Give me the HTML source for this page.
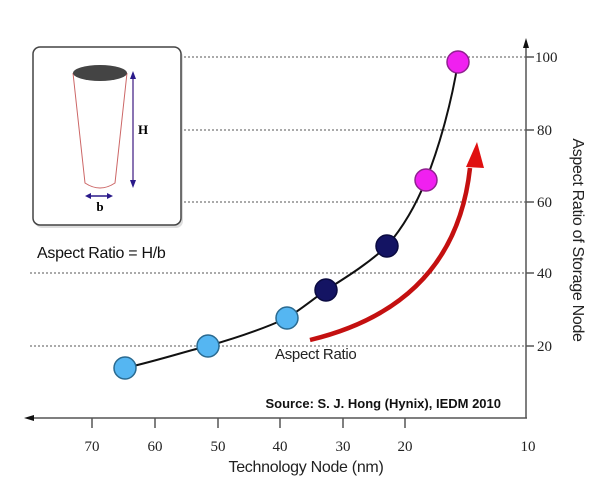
<!DOCTYPE html>
<html><head><meta charset="utf-8"><style>
body{margin:0;background:#fff;}
svg{display:block;}
</style></head><body>
<svg width="600" height="487" viewBox="0 0 600 487" xmlns="http://www.w3.org/2000/svg">
<rect width="600" height="487" fill="#fff"/>
<g stroke="#777" stroke-width="1.2" stroke-dasharray="2,2">
<line x1="184" y1="57" x2="526" y2="57"/>
<line x1="184" y1="130" x2="526" y2="130"/>
<line x1="184" y1="202" x2="526" y2="202"/>
<line x1="30" y1="273" x2="526" y2="273"/>
<line x1="30" y1="346" x2="526" y2="346"/>
</g>
<rect x="35" y="50" width="148" height="178" rx="7" fill="#ddd"/>
<rect x="33" y="47" width="148" height="178" rx="7" fill="#fff" stroke="#444" stroke-width="1.5"/>
<path d="M73 73 L85 183 Q100 193 115 183 L127 73" fill="#fff" stroke="#c66" stroke-width="1"/>
<ellipse cx="100" cy="73" rx="27" ry="8" fill="#444"/>
<line x1="133" y1="76" x2="133" y2="184" stroke="#4a2a8a" stroke-width="1.3"/>
<path d="M133 71 L130 79 L136 79Z M133 188 L130 180 L136 180Z" fill="#2a1a8a"/>
<text x="138" y="134" font-family="Liberation Serif,serif" font-weight="bold" font-size="13">H</text>
<line x1="88" y1="196" x2="110" y2="196" stroke="#2a1a8a" stroke-width="1.5"/>
<path d="M85 196 L91 193 L91 199Z M113 196 L107 193 L107 199Z" fill="#2a1a8a"/>
<text x="100" y="211" text-anchor="middle" font-family="Liberation Serif,serif" font-weight="bold" font-size="13">b</text>
<text x="37" y="258" font-family="Liberation Sans,sans-serif" font-size="16" fill="#111" letter-spacing="-0.3">Aspect Ratio = H/b</text>
<line x1="30" y1="418" x2="527" y2="418" stroke="#555" stroke-width="1.5"/>
<path d="M24 418 L34 415 L34 421Z" fill="#111"/>
<line x1="526" y1="418" x2="526" y2="45" stroke="#555" stroke-width="1.5"/>
<path d="M526 38 L523 48 L529 48Z" fill="#111"/>
<g stroke="#555" stroke-width="1.5">
<line x1="92" y1="418" x2="92" y2="428"/><line x1="155" y1="418" x2="155" y2="428"/>
<line x1="218" y1="418" x2="218" y2="428"/><line x1="280" y1="418" x2="280" y2="428"/>
<line x1="343" y1="418" x2="343" y2="428"/><line x1="405" y1="418" x2="405" y2="428"/>
<line x1="526" y1="57" x2="534" y2="57"/><line x1="526" y1="130" x2="534" y2="130"/>
<line x1="526" y1="202" x2="534" y2="202"/><line x1="526" y1="273" x2="534" y2="273"/>
<line x1="526" y1="346" x2="534" y2="346"/>
</g>
<g font-family="Liberation Serif,serif" font-size="15" fill="#222" text-anchor="middle">
<text x="92" y="451">70</text><text x="155" y="451">60</text><text x="218" y="451">50</text>
<text x="280" y="451">40</text><text x="343" y="451">30</text><text x="405" y="451">20</text><text x="528" y="451">10</text>
</g>
<g font-family="Liberation Serif,serif" font-size="15" fill="#222">
<text x="535" y="62">100</text><text x="537" y="135">80</text><text x="537" y="207">60</text>
<text x="537" y="278">40</text><text x="537" y="351">20</text>
</g>
<text x="306" y="472" text-anchor="middle" font-family="Liberation Sans,sans-serif" font-size="16" fill="#222" letter-spacing="-0.3">Technology Node (nm)</text>
<text transform="translate(573,240) rotate(90)" text-anchor="middle" font-family="Liberation Sans,sans-serif" font-size="16" fill="#222" letter-spacing="-0.3">Aspect Ratio of Storage Node</text>
<text x="501" y="408" text-anchor="end" font-family="Liberation Sans,sans-serif" font-weight="bold" font-size="13" fill="#111">Source: S. J. Hong (Hynix), IEDM 2010</text>
<text x="275" y="359" font-family="Liberation Sans,sans-serif" font-size="15" fill="#222" letter-spacing="-0.3">Aspect Ratio</text>
<path d="M310 340 Q455 305 470 168" fill="none" stroke="#c41010" stroke-width="4.5"/>
<path d="M477 142 L466 167 L484 168Z" fill="#e01010"/>
<path d="M125 368 C160 360 190 350 208 346 C240 337 265 328 287 318 C300 310 315 298 326 290 C350 275 370 262 387 246 C405 225 418 200 426 180 C440 145 452 100 458 62" fill="none" stroke="#111" stroke-width="2"/>
<g stroke-width="1.5">
<circle cx="125" cy="368" r="11" fill="#55b6f2" stroke="#2a6a90"/>
<circle cx="208" cy="346" r="11" fill="#55b6f2" stroke="#2a6a90"/>
<circle cx="287" cy="318" r="11" fill="#55b6f2" stroke="#2a6a90"/>
<circle cx="326" cy="290" r="11" fill="#141463" stroke="#0a0a40"/>
<circle cx="387" cy="246" r="11" fill="#141463" stroke="#0a0a40"/>
<circle cx="426" cy="180" r="11" fill="#f020f0" stroke="#902090"/>
<circle cx="458" cy="62" r="11" fill="#f020f0" stroke="#902090"/>
</g>
</svg>
</body></html>
